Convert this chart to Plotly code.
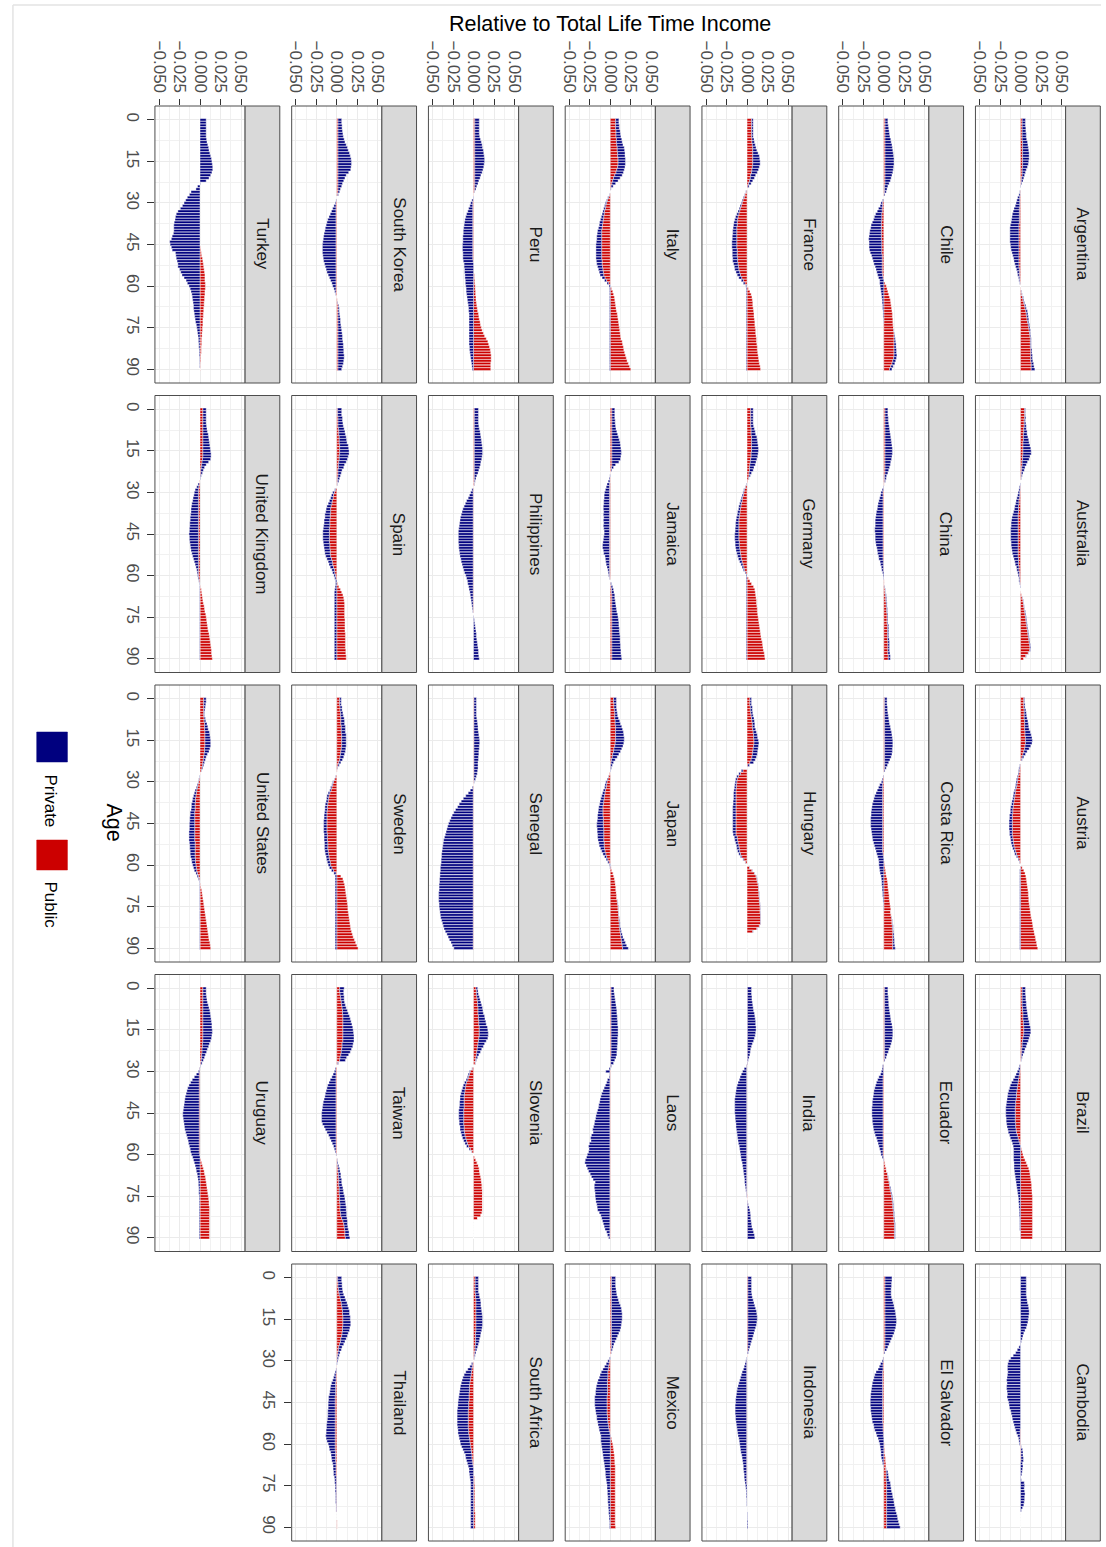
import plotly.graph_objects as go

W, H = 1106, 1547

COUNTRIES = ["Argentina", "Australia", "Austria", "Brazil", "Cambodia",
             "Chile", "China", "Costa Rica", "Ecuador", "El Salvador",
             "France", "Germany", "Hungary", "India", "Indonesia",
             "Italy", "Jamaica", "Japan", "Laos", "Mexico",
             "Peru", "Philippines", "Senegal", "Slovenia", "South Africa",
             "South Korea", "Spain", "Sweden", "Taiwan", "Thailand",
             "Turkey", "United Kingdom", "United States", "Uruguay"]
AGES = list(range(91))
VALUE_TICKS = [-0.05, -0.025, 0.0, 0.025, 0.05]
VALUE_TICK_LABELS = ["\u22120.050", "\u22120.025", "0.000", "0.025", "0.050"]
AGE_TICKS = [0, 15, 30, 45, 60, 75, 90]
AGE_TICK_LABELS = ["0", "15", "30", "45", "60", "75", "90"]
TITLE = "Relative to Total Life Time Income"
AGE_TITLE = "Age"
SERIES = ["Private", "Public"]

# values in thousandths of total life time income, one per age 0..90
ARGENTINA_PRIVATE = [4,4,4,4.5,4.5,5,5,5.5,6,6.5,
 7,7.5,8,8,8,7.5,7,6,5,4,
 3,2.5,2,1,0.5,0,-0.5,-1.5,-2.5,-3.5,
 -4.5,-5.5,-6.5,-7.5,-8.5,-9,-9.5,-10,-10.5,-11,
 -11,-11,-11,-11,-11,-10.5,-10,-9.5,-8.5,-7.5,
 -6.5,-6,-5,-4,-3.5,-2.5,-2,-1.5,-1,-0.5,
 0,0,0.5,0.5,1,1,1,1.5,1.5,2,
 2,2,2,1.5,1.5,1.5,1.5,1,1,1,
 1,1,1,1.5,1.5,2,2,2.5,3,3.5,
 4.5]
ARGENTINA_PUBLIC = [2,2,2,2,2,2,2,2,2.5,2.5,
 2.5,2.5,2.5,2.5,2.5,2.5,2.5,2.5,2,2,
 2,1.5,1,0.5,0,0,-0.5,-0.5,-1,-1,
 -1,-1,-1.5,-1.5,-1.5,-1.5,-1.5,-1.5,-2,-2,
 -2,-2,-2,-2,-2,-2,-2,-2,-2,-2,
 -2,-2,-2,-2,-1.5,-1.5,-1.5,-1,-1,-0.5,
 0,0.5,1,1.5,2.5,3,4,5,5.5,6.5,
 7,7.5,8,8.5,9.5,10,10.5,11,11.5,12,
 12,12,12,12.5,12.5,12.5,12.5,12.5,13,13,
 13]
AUSTRALIA_PRIVATE = [1,1,1,1.5,1.5,2,2.5,3,4,4.5,
 5.5,6.5,7.5,8.5,9.5,10,10,9,8,6.5,
 5,4,3,2,1,0.5,0,-0.5,-1,-1.5,
 -2,-2.5,-3,-3.5,-4,-4.5,-5,-6,-6.5,-7.5,
 -8,-8.5,-8.5,-9,-9,-9,-9,-9,-8.5,-8.5,
 -8,-7.5,-7,-6,-5.5,-4.5,-4,-3,-2.5,-2,
 -1.5,-1,-1,-0.5,-0.5,0,0,0,0.5,0.5,
 0.5,0.5,0.5,1,1,1,1,1,1,1,
 1,1,1,1,1,1,1,1,0.5,0.5,
 0]
AUSTRALIA_PUBLIC = [5,5,5,5,4.5,4.5,4.5,4,4,3.5,
 3.5,3.5,3,3,3,3,3,2.5,2.5,2,
 2,1.5,1.5,1,1,0.5,0,0,-0.5,-0.5,
 -1,-1,-1.5,-2,-2,-2.5,-2.5,-2.5,-3,-3,
 -3,-3,-3,-3,-3,-3,-3,-3,-3,-3,
 -3,-3,-3,-3,-2.5,-2.5,-2.5,-2,-2,-1.5,
 -1.5,-1,-1,-0.5,0,0,0.5,1.5,2,3,
 3.5,4,4.5,5,5.5,6,6.5,7,7.5,8,
 8.5,9,9.5,10,10.5,11,11.5,11,9.5,6.5,
 4]
AUSTRIA_PRIVATE = [1,1,1.5,1.5,2,2.5,3,3.5,4,4.5,
 5,5.5,6.5,7.5,8,8.5,8,7,5.5,4,
 3,2,1,0,-0.5,-1,-1,-1,-1,-1.5,
 -1.5,-1.5,-1.5,-1.5,-2,-2,-2,-2.5,-2.5,-3,
 -3,-3,-3.5,-3.5,-4,-4,-4,-4,-3.5,-3.5,
 -3,-3,-3,-2.5,-2.5,-2,-2,-1.5,-1,-0.5,
 0,-0.5,-1,-1,-1,-1,-1,-1,-1,-1,
 -1,-1,-1,-1,-1,-1,-1,-1,-1,-1,
 -1,-1,-1,-1,-1,-1,-1,-1,-1,-1,
 -1]
AUSTRIA_PUBLIC = [4,4,4,4,4.5,4.5,4.5,4.5,5,5,
 5,5,5.5,5.5,6,6,6,5.5,5,4,
 3,2,1,0,-0.5,-1,-1.5,-2,-3,-3.5,
 -4,-4.5,-5,-6,-6.5,-7,-7.5,-8,-8.5,-9,
 -9.5,-9.5,-10,-10,-10,-10,-10,-10,-10,-10,
 -9.5,-9,-8.5,-8,-7,-6,-5,-3.5,-2,-1,
 0,2,4,5.5,6.5,7,7.5,8,8.5,9,
 9.5,9.5,10,10,10.5,11,11.5,12,12.5,13,
 14,14.5,15,15.5,16.5,17,18,18.5,19.5,20,
 21]
BRAZIL_PRIVATE = [4,4,4,4.5,4.5,5,5,5,5.5,5.5,
 6,6.5,7,7.5,8,8.5,8.5,8,7.5,7,
 6,5,4,3,2,1,0.5,0,-1,-2,
 -3,-4,-5,-6.5,-8,-9,-9.5,-10,-10.5,-11,
 -11,-11,-11.5,-11.5,-11.5,-11.5,-11.5,-11,-11,-11,
 -10.5,-10,-10,-9.5,-9.5,-9,-9,-9,-8.5,-8.5,
 -8.5,-8.5,-8.5,-8,-8,-8,-7.5,-7,-6.5,-6,
 -5.5,-5,-4.5,-4,-3.5,-3,-2.5,-2.5,-2,-2,
 -1.5,-1.5,-1.5,-1,-1,-1,-1,-1,-0.5,-0.5,
 -0.5]
BRAZIL_PUBLIC = [2,2,2,2,2,2,2,2.5,2.5,3,
 3,3,3.5,3.5,4,4,4,3.5,3,2.5,
 2,2,1.5,1.5,1,1,0.5,0,-0.5,-0.5,
 -1,-1.5,-2,-2.5,-3,-3.5,-4,-4.5,-5,-5,
 -5.5,-6,-6,-6.5,-6.5,-6.5,-6.5,-6.5,-6.5,-6,
 -6,-5.5,-5,-4,-3,-2,-1,0,1,2,
 3,4,5.5,7,8.5,10,11,11.5,12,12.5,
 13,13.5,13.5,14,14,14.5,14.5,14.5,14.5,14.5,
 14.5,14.5,14.5,14.5,14.5,14.5,14.5,14.5,14.5,14.5,
 14.5]
CAMBODIA_PRIVATE = [7,7,7,7,7,7,7,7.5,8,8.5,
 9.5,10,10.5,10.5,10,9.5,9,8,7,5.5,
 4,3,2,1,-0.5,-2,-4,-6,-9,-12,
 -14.5,-15.5,-16,-16,-15.5,-16,-16.5,-17,-16.5,-17,
 -17,-16.5,-16,-16.5,-15.5,-14.5,-14,-13.5,-12,-11.5,
 -10.5,-10,-9,-8,-7,-5.5,-4.5,-3,-2,-1.5,
 -1,0.5,2,2.5,2.5,3,3,2.5,3,2.5,
 2,1.5,0.5,1,4.5,5,4.5,5,5.5,5,
 5,4.5,4,2.5,1,0,0,0,0,0,
 0]
CAMBODIA_PUBLIC = [0,0,0,0,0,0,0,0,0,0,
 0,0,0,0,0,0,0,0,0,0,
 0,0,0,0,0,0,0,0,0,0,
 0,0,0,0,0,0,0,0,0,0,
 0,0,0,0,0,0,0,0,0,0,
 0,0,0,0,0,-0.5,-0.5,-0.5,-0.5,-0.5,
 -0.5,0.5,0.5,0.5,0.5,0.5,0.5,0,0,0,
 0,0,0,0,0,0,0,0,0,0,
 0,0,0,0,0,0,0,0,0,0,
 0]
CHILE_PRIVATE = [3.5,3.5,4,4.5,5,5.5,6,7,7.5,8.5,
 9,9.5,10,10.5,11,11,11,10.5,10,9.5,
 8.5,7.5,6.5,5,4,3,2,1,0,-1,
 -2,-3,-4.5,-6,-7.5,-9,-10,-11,-12.5,-13,
 -14,-14.5,-15,-15.5,-15.5,-15.5,-15.5,-15,-14,-13,
 -12,-11,-10,-8.5,-7.5,-6.5,-6,-5.5,-5,-5,
 -4.5,-4,-3.5,-3,-2.5,-2,-2,-1.5,-1.5,-1,
 -1,-1,-0.5,-0.5,0,0,0.5,0.5,1,1.5,
 2,2.5,2.5,3,3,3.5,3.5,3.5,3.5,3,
 3]
CHILE_PUBLIC = [1.5,1.5,1.5,1.5,1.5,1.5,1.5,1.5,1.5,1.5,
 1.5,1.5,1.5,1.5,1.5,1.5,1.5,1.5,1.5,1.5,
 1.5,1.5,1.5,1.5,1,1,1,0.5,0,-0.5,
 -1.5,-1.5,-2,-2,-2.5,-2.5,-2.5,-3,-3,-3,
 -3,-3,-3,-3,-2.5,-2.5,-2.5,-2.5,-2.5,-2,
 -2,-2,-2,-2,-2,-2,-1.5,-1,0,1.5,
 3,4,5,6,7,8,8.5,9,9.5,10,
 10.5,10.5,11,11,11.5,12,12,12.5,12.5,12.5,
 12.5,12.5,12.5,12.5,12.5,12.5,12,11,10,8.5,
 7]
CHINA_PRIVATE = [3.5,3.5,3.5,4,4,4.5,5,5.5,6,6.5,
 7,7.5,8,8.5,9,9,9,8.5,8,7,
 6.5,5.5,4.5,3.5,2.5,2,1,0,-0.5,-1.5,
 -2.5,-3,-4,-5,-6,-6.5,-7,-8,-8.5,-9,
 -9.5,-9.5,-9.5,-10,-10,-9.5,-9.5,-9.5,-9,-8.5,
 -7.5,-7,-6.5,-5.5,-5,-4,-3.5,-2.5,-2,-1.5,
 -1,-0.5,0,0,0.5,0.5,0.5,1,1,1,
 1,1,1,1,1,1,1,1,1.5,1.5,
 1.5,1.5,1.5,2,2,2,2,2,2.5,2.5,
 2.5]
CHINA_PUBLIC = [1.5,1.5,1.5,1.5,1.5,1.5,1.5,1.5,1.5,1.5,
 1.5,1.5,1.5,1.5,1.5,1.5,1.5,1.5,1.5,1.5,
 1.5,1.5,1.5,1.5,1,1,1,0.5,0,-0.5,
 -1,-1,-1,-1,-1,-1,-1,-1,-1,-1,
 -1,-1,-1,-1,-1,-1,-1,-1,-1,-1,
 -1,-1,-1,-1,-1,-0.5,-0.5,-0.5,-0.5,0,
 0,0,0.5,0.5,1,1.5,1.5,2,2.5,2.5,
 3,3,3.5,3.5,4,4,4,4,4.5,4.5,
 4.5,4.5,4.5,4.5,5,5,5,5,5,5.5,
 5.5]
COSTA_RICA_PRIVATE = [3,3,3,3.5,3.5,4,4.5,5,5.5,6,
 7,7.5,8.5,9,9.5,10,10,10,9.5,9.5,
 9,8,6.5,5,3.5,2,1,0,-0.5,-1,
 -2,-3.5,-5,-6.5,-8,-9.5,-10.5,-11.5,-12.5,-13,
 -13.5,-14,-14,-14.5,-14.5,-14.5,-14.5,-14,-13.5,-13,
 -12.5,-12,-11,-10,-9,-8,-7.5,-7,-6.5,-6,
 -6,-5.5,-5,-4.5,-3.5,-3,-2.5,-2.5,-2,-2,
 -1.5,-1.5,-1,-1,-0.5,-0.5,-0.5,0,0,0.5,
 0.5,0.5,1,1,1,1.5,1.5,2,2,2.5,
 3]
COSTA_RICA_PUBLIC = [1,1,1,1,1,1,1,1,1,1,
 1,1,1,1,1,1,1,1,1,1,
 1,1,1,1,1,1,0.5,0,-0.5,-1,
 -1,-1.5,-1.5,-1.5,-1.5,-1.5,-1.5,-1.5,-1.5,-1.5,
 -1.5,-1.5,-1.5,-1.5,-1.5,-1.5,-1.5,-1.5,-1.5,-1.5,
 -1.5,-1.5,-1.5,-1.5,-1.5,-1.5,-1,-0.5,0,0.5,
 1,1.5,2,2.5,3,4,4.5,5,5,5.5,
 6,6.5,6.5,7,7.5,8,8.5,8.5,9,9.5,
 10,10,10.5,10.5,11,11,11,11,11,11,
 11]
ECUADOR_PRIVATE = [4,4,4,4.5,4.5,5,5,5.5,6,6.5,
 7,7.5,8,9,9.5,10,10,10,9.5,9,
 8,7,5.5,4.5,3,2,1,0,-1,-1.5,
 -2.5,-3.5,-5,-6.5,-8,-9,-10,-11,-11.5,-12,
 -12.5,-13,-13,-13.5,-13.5,-13.5,-13.5,-13,-13,-12.5,
 -12,-11.5,-10.5,-9.5,-8,-7,-6,-5,-4,-3,
 -2.5,-1.5,-0.5,0,0,0,0,0.5,0.5,0.5,
 0.5,0.5,1,1,1,1,1,1,1,1,
 1,1,1,1,1,1,1,1,1,1,
 1]
ECUADOR_PUBLIC = [1,1,1,1,1,1,1,1,1,1,
 1,1,1,1,1,1,1,1,1,1,
 1,1,1,1,1,1,0.5,0,-0.5,-0.5,
 -0.5,-0.5,-1,-1,-1,-1,-1,-1,-1,-1,
 -1,-1,-1,-1,-1,-1,-1,-1,-1,-1,
 -1,-1,-1,-1,-1,-1,-1,-1,-1,-1,
 -1,-0.5,0.5,1.5,2,3,3.5,4.5,5,5.5,
 6.5,7,7.5,8,9,9.5,10,10.5,11,11,
 11.5,12,12,12.5,12.5,13,13,13,13,13,
 13]
EL_SALVADOR_PRIVATE = [8.5,8.5,8,8,7.5,7.5,7.5,8,9,10,
 11,11.5,12.5,13,13.5,14,14,13.5,13,12,
 11,9.5,8,6.5,5,3.5,2.5,1,0,-0.5,
 -1.5,-3,-4.5,-6,-8,-9.5,-10.5,-11.5,-12.5,-13,
 -13.5,-14,-14.5,-14.5,-15,-15,-15,-14.5,-14.5,-14,
 -13.5,-13,-12.5,-11.5,-11,-10,-9,-8,-7,-6,
 -5,-4.5,-4,-3.5,-3.5,-3,-2,-1.5,-0.5,0.5,
 2,2.5,3,3.5,4.5,5,5.5,6,7,7.5,
 8.5,9,9.5,10.5,11,12,13,13.5,14.5,15.5,
 16.5]
EL_SALVADOR_PUBLIC = [1.5,1.5,1.5,1.5,1.5,1.5,1.5,1.5,1.5,1.5,
 1.5,1.5,1.5,1.5,1.5,1.5,1.5,1.5,1.5,1.5,
 1.5,1.5,1.5,1.5,1.5,1.5,1,0.5,0,-0.5,
 -0.5,-1,-1,-1,-1.5,-1.5,-1.5,-1.5,-1.5,-1.5,
 -1.5,-1.5,-1.5,-1.5,-1.5,-1.5,-1.5,-1.5,-1.5,-1.5,
 -1.5,-1.5,-1.5,-1,-1,-1,-0.5,-0.5,0,0,
 0.5,0.5,1,1,1.5,2,2,2.5,2.5,2.5,
 3,3,3,3,3.5,3.5,3.5,3.5,3.5,3.5,
 3.5,3.5,3.5,3.5,3.5,3.5,3.5,3.5,3.5,3.5,
 3.5]
FRANCE_PRIVATE = [2,2,2,2,2,2,2,2.5,3,3.5,
 4,5,6.5,8,8.5,9,9,8.5,8,7,
 6,5,4,3,1.5,0,-0.5,-0.5,-1,-1,
 -1,-1.5,-1.5,-2,-2.5,-3,-3.5,-4,-4.5,-4.5,
 -5,-5,-5.5,-5.5,-6,-6,-6,-6,-6,-6,
 -6,-6,-5.5,-5,-5,-4.5,-4,-3.5,-2.5,-2,
 -1,-1,-1,-1,-1,-1,-1,-1,-1,-1,
 -1,-1,-1,-1,-1,-1,-1,-1,-1,-1,
 -1,-1,-1,-1,-1,-1,-1,-1,-1,-1,
 -1]
FRANCE_PUBLIC = [5.5,5.5,5.5,5.5,5.5,5.5,5.5,6,6,6.5,
 7,7,7,7,7,7,7,6.5,6,5.5,
 4.5,4,3,2,1,0,-1,-2.5,-3.5,-5,
 -6,-7,-8,-9,-10,-11,-11.5,-12,-12,-12.5,
 -12.5,-12.5,-12.5,-12.5,-12.5,-12.5,-12.5,-12,-12,-12,
 -11.5,-11.5,-11,-10.5,-10,-9,-8,-6.5,-4.5,-2.5,
 -0.5,1.5,3.5,5,6,6.5,7,7,7.5,8,
 8.5,8.5,9,9.5,9.5,10,10.5,10.5,11,11.5,
 11.5,12,12.5,12.5,13,13.5,14,14.5,15,16,
 16.5]
GERMANY_PRIVATE = [3,3,3,3,3,3,3.5,4,5,5.5,
 6.5,7,7.5,8,8.5,8.5,8.5,8,7.5,7,
 6.5,5.5,4.5,3,1.5,0.5,0,-0.5,-0.5,-1,
 -1,-1.5,-1.5,-2,-2,-2.5,-2.5,-3,-3,-3.5,
 -3.5,-4,-4,-4.5,-4.5,-5,-5,-5,-5,-5,
 -5,-5,-4.5,-4,-3.5,-3,-2.5,-2,-1.5,-1,
 -1,-1,-1,-1,-1,-1,-1,-1,-1,-1,
 -1,-1,-1,-1,-1,-1,-1,-1,-1,-1,
 -1,-1,-1,-1,-1,-1,-1,-1,-1,-1,
 -1]
GERMANY_PUBLIC = [4.5,4.5,4.5,4.5,4.5,4.5,4.5,5,5,5,
 5.5,5.5,5.5,5.5,5.5,5.5,5,5,4.5,4,
 3.5,3,3,2.5,2.5,2,1,-0.5,-2,-3,
 -4,-4.5,-5.5,-6,-7,-7.5,-8,-8.5,-9,-9.5,
 -10,-10,-10,-10,-10,-10,-10,-10,-9.5,-9.5,
 -9,-8.5,-8,-7.5,-7,-6,-5,-4,-3,-1.5,
 0,1.5,3.5,5.5,8,9.5,10,10.5,11,11.5,
 11.5,12,12.5,12.5,13,13.5,14,14.5,15,15.5,
 16,16.5,17,17.5,18.5,19,19.5,20,21,21.5,
 22]
HUNGARY_PRIVATE = [2,2,2,2.5,2.5,2.5,2.5,3,3,3,
 3,3.5,4,4.5,5,5.5,6,6,6,6,
 6,5.5,5,4.5,2,0,-2,-2,-2,-2,
 -2,-2,-2.5,-2.5,-3,-3,-3,-3.5,-3.5,-4,
 -4,-4,-4,-4,-4,-4,-4,-4,-4,-3.5,
 -3.5,-3.5,-3,-3,-3,-2.5,-2,-1.5,-1,-0.5,
 0,0.5,0.5,0.5,0.5,0.5,0.5,0.5,0.5,0.5,
 0.5,0.5,0.5,0.5,0.5,0.5,0.5,0.5,0.5,0.5,
 0.5,0.5,0.5,0.5,0.5,0,0,0,0,0,
 0]
HUNGARY_PUBLIC = [3.5,3.5,3.5,4,4,4.5,5,5.5,6,6.5,
 6.5,7,7.5,8,8,8.5,8.5,8,7.5,7,
 6.5,6,5,3.5,1,0,-5,-8,-10.5,-12,
 -12.5,-13,-13,-13.5,-13.5,-13.5,-13.5,-13.5,-13.5,-13.5,
 -13.5,-13.5,-13.5,-13.5,-13.5,-13.5,-13.5,-13.5,-13.5,-13.5,
 -12,-11.5,-11,-10,-9.5,-9,-8,-6.5,-4,-2,
 0,3,6,9,11,12,12.5,13.5,14,14,
 14.5,14.5,15,15,15.5,16,16,16,16.5,16.5,
 16.5,16.5,15,12,7,0,0,0,0,0,
 0]
INDIA_PRIVATE = [5,5,5,5.5,5.5,6,6.5,7,7.5,8.5,
 9,9.5,10,10,10.5,10.5,10,9.5,8.5,7.5,
 6,5,4,3.5,3,2,1,0.5,-0.5,-3,
 -5,-6.5,-8,-9,-10.5,-11.5,-12.5,-13,-13.5,-14,
 -14.5,-14.5,-14.5,-14.5,-14.5,-14.5,-14,-14,-13.5,-13,
 -13,-12.5,-12,-11.5,-11,-10.5,-10,-9,-8.5,-8,
 -7.5,-7,-6.5,-5.5,-5,-4.5,-4,-3.5,-3,-2.5,
 -2.5,-2,-1.5,-1,-0.5,-0.5,0,0.5,1,2,
 3,3.5,4,4,4.5,5,5.5,6.5,7.5,8.5,
 9]
INDIA_PUBLIC = [0.5,0.5,0.5,0.5,0.5,0.5,0.5,0.5,0.5,0.5,
 0.5,0.5,0.5,0.5,0.5,0.5,0.5,0.5,0.5,0.5,
 0.5,0.5,0.5,0.5,0.5,0.5,0.5,0.5,-0.5,-0.5,
 -0.5,-0.5,-0.5,-0.5,-0.5,-0.5,-0.5,-0.5,-0.5,-0.5,
 -0.5,-0.5,-0.5,-0.5,-0.5,-0.5,-0.5,-0.5,-0.5,-0.5,
 -0.5,-0.5,-0.5,-0.5,-0.5,-0.5,-0.5,-0.5,-0.5,-0.5,
 -0.5,-0.5,-0.5,-0.5,-0.5,-0.5,-0.5,-0.5,-0.5,-0.5,
 -0.5,-0.5,-0.5,-0.5,-0.5,0.5,0.5,0.5,0.5,0.5,
 0.5,0.5,0.5,0.5,0.5,0.5,0.5,0.5,0.5,0.5,
 0.5]
INDONESIA_PRIVATE = [4.5,4.5,4.5,4.5,4.5,4.5,5,5.5,6.5,7.5,
 8.5,9.5,10.5,11,11.5,11.5,11,10.5,9.5,8.5,
 7.5,6.5,5.5,4.5,3.5,2.5,1.5,1,0,-0.5,
 -1,-2,-3,-4,-5.5,-6.5,-7.5,-8.5,-9.5,-10.5,
 -11.5,-12,-12.5,-13,-13.5,-13.5,-14,-14,-14,-14,
 -13.5,-13.5,-13,-12.5,-12,-11.5,-11,-10.5,-9.5,-9,
 -8.5,-8,-7.5,-7,-6,-5.5,-5,-4.5,-4,-4,
 -3.5,-3,-3,-2.5,-2,-2,-1.5,-1,-1,-1,
 -0.5,-0.5,-0.5,0,0,0.5,0.5,0.5,1,1,
 1]
INDONESIA_PUBLIC = [1,1,1,1,1,1,1,1,1,1,
 1,1,1,1,1,1,1,1,1,1,
 1,1,1,1,1,1,1,0.5,0.5,0,
 -0.5,-0.5,-0.5,-0.5,-0.5,-0.5,-0.5,-0.5,-0.5,-0.5,
 -0.5,-0.5,-0.5,-0.5,-0.5,-0.5,-0.5,-0.5,-0.5,-0.5,
 -0.5,-0.5,-0.5,-0.5,-0.5,-0.5,-0.5,-0.5,-0.5,-0.5,
 -0.5,-0.5,-0.5,-0.5,-0.5,-0.5,-0.5,-0.5,-0.5,-0.5,
 -0.5,-0.5,-0.5,-0.5,-0.5,0,0,0,0,0,
 0,0,0,0,0,0,0,0,0,0,
 0]
ITALY_PRIVATE = [4,4,4.5,4.5,5,5.5,6,6.5,7,7.5,
 8.5,9,9,9,9,9,9,9,9,9,
 9,8,6.5,4.5,2.5,0.5,0,-0.5,-1,-1,
 -1.5,-1.5,-2,-2,-2.5,-3,-3.5,-4,-4,-4.5,
 -5,-5.5,-6,-6,-6.5,-7,-7,-7,-7,-7,
 -7,-7,-6.5,-6,-5.5,-5,-4.5,-3.5,-2.5,-2,
 -1.5,-1,-1,-1,-1,-1,-1,-1,-1,-1,
 -1,-1,-1,-1,-1,-1,-1,-1,-1,-1,
 -1,-1,-1,-1,-1,-1,-1,-1,-1,-1,
 -1]
ITALY_PUBLIC = [6.5,6.5,6.5,6.5,7,7,7,7.5,7.5,8,
 8.5,8.5,9,9,9.5,9.5,9.5,9,8,7,
 5.5,4,3,2,1,0.5,0,-0.5,-2,-3.5,
 -4.5,-5.5,-6,-7,-7.5,-8,-8.5,-9,-9.5,-10,
 -10.5,-10.5,-10.5,-10.5,-10.5,-10.5,-10.5,-10.5,-10.5,-10.5,
 -10.5,-10,-10,-9.5,-9,-8.5,-8,-6.5,-4.5,-2,
 0,1.5,3,4,5,5.5,6,6.5,7,7.5,
 8.5,9,9.5,10,10.5,11,11.5,12,12.5,13,
 14.5,15,16,16.5,17.5,18.5,19.5,20.5,22,23.5,
 25]
JAMAICA_PRIVATE = [3.5,3.5,3.5,3.5,4,4,4.5,5,6,7,
 8,9,10,10.5,11,11.5,11.5,11,10.5,8.5,
 4.5,2.5,1,0,-0.5,-1,-2,-3,-4,-5,
 -6,-6.5,-6.5,-7,-7,-7.5,-7.5,-7,-7.5,-7,
 -7.5,-7,-7.5,-7,-6.5,-6.5,-7,-7.5,-8,-8.5,
 -8.5,-7.5,-7,-5.5,-5,-4.5,-4,-3,-2,-1.5,
 -1,-0.5,0,1,2,2.5,3,3.5,3.5,4,
 4.5,5,5.5,6,7,7.5,8,8.5,8.5,9,
 9,9.5,10,10,10,10.5,10.5,11,11,11.5,
 12]
JAMAICA_PUBLIC = [2,2,2,2,2,2,2,2,2,2,
 2,2,2,2,2,2,2,2,2,2,
 2,1.5,1,0.5,0,-0.5,-0.5,-1,-1,-1,
 -1,-1,-1,-1,-1,-1,-1,-1,-1,-1,
 -1,-1,-1,-1,-1,-1,-1,-1,-1,-1,
 -1,-1,-1,-1,-1,-1,-1,-1,-1,-1,
 -1,-0.5,0,0.5,1,1.5,1.5,2,2,2,
 2,2,2,2,2,2,2,2,2,2,
 2,2,2,2,2,2,2,2,2,2,
 2]
JAPAN_PRIVATE = [3.5,3.5,3,3,3,3,3.5,4.5,5.5,6.5,
 7.5,8.5,9.5,10,10.5,10.5,10.5,10,9.5,8.5,
 7.5,6,4.5,3,2,1,0.5,0,-0.5,-1,
 -1.5,-2,-2,-2.5,-3,-3.5,-4,-4.5,-4.5,-5,
 -5.5,-6,-6.5,-7,-7.5,-8,-8,-8,-8,-7.5,
 -7.5,-7,-6.5,-6,-5,-4,-3.5,-2.5,-2,-1.5,
 -1,-0.5,0,0,0,0,0,0,0,0,
 0,0,0,0.5,0.5,0.5,0.5,0.5,0.5,0.5,
 1,1,1,1.5,1.5,2,2.5,3.5,4.5,5.5,
 7]
JAPAN_PUBLIC = [4,4,4.5,4.5,5,5.5,5.5,5.5,6,6,
 6.5,6.5,6.5,6.5,6.5,6.5,6,5.5,4.5,4,
 3,2.5,1.5,1,0.5,0.5,0,-1,-2,-3,
 -4,-4.5,-5,-6,-6.5,-7,-7.5,-8,-8.5,-9,
 -9,-9,-9,-8.5,-8.5,-8.5,-8.5,-8,-8,-8,
 -8,-8,-7.5,-7.5,-7,-6.5,-5.5,-4.5,-3,-1.5,
 0,1,2,3.5,4.5,5.5,6,6.5,7,7,
 7.5,8,8,8.5,9,9.5,9.5,10,10,10.5,
 10.5,11,11,11.5,12,12.5,13,13.5,14,14.5,
 15]
LAOS_PRIVATE = [3.5,3.5,4,4.5,5,5.5,6,6.5,7,7,
 7.5,7.5,8,8,8.5,8.5,8.5,8.5,8,8,
 8,7.5,7.5,7,7,6.5,5,3.5,1,-1.5,
 -5,-0.5,-1,-3,-4,-5.5,-7,-8.5,-10,-11,
 -12,-12.5,-13.5,-14,-15,-16,-17,-17.5,-18.5,-19,
 -20,-21,-20.5,-22.5,-23.5,-23,-25,-26,-25.5,-26,
 -27.5,-28.5,-30,-30.5,-29,-27.5,-26,-24,-22.5,-20.5,
 -18,-19,-19,-18.5,-18,-18,-17.5,-17,-16,-15.5,
 -15,-13,-11,-10,-9,-8,-7,-6,-4,-3,
 -1.5]
LAOS_PUBLIC = [1,1,1,1,1,1,1,1,1,1,
 1,1,1,1,1,1,1,1,1,1,
 1,1,1,1,1,0.5,0.5,0.5,0.5,0,
 -0.5,-0.5,-0.5,-0.5,-0.5,-0.5,-0.5,-0.5,-0.5,-0.5,
 -0.5,-0.5,-0.5,-0.5,-0.5,-0.5,-0.5,-0.5,-0.5,-0.5,
 -0.5,-0.5,-0.5,-0.5,-0.5,-0.5,-0.5,-0.5,-0.5,-0.5,
 -0.5,-0.5,-0.5,-0.5,-0.5,-0.5,-0.5,-0.5,-0.5,-0.5,
 -0.5,-0.5,-0.5,-0.5,-0.5,-0.5,-0.5,-0.5,-0.5,-0.5,
 -0.5,-0.5,-0.5,-0.5,-0.5,-0.5,-0.5,-0.5,-0.5,-0.5,
 -0.5]
MEXICO_PRIVATE = [5,5,5,5,5.5,6,6.5,7.5,8.5,9.5,
 11,12,12.5,13,13,13,12.5,12,11.5,10.5,
 9,7.5,6,4.5,3,2,1.5,0.5,0,-1,
 -2,-3.5,-5,-6.5,-8,-9.5,-10.5,-11.5,-12.5,-13.5,
 -14,-14.5,-14.5,-15,-15,-15,-15,-14.5,-14,-13.5,
 -13,-13,-12.5,-12.5,-12,-12,-12,-11.5,-11.5,-11.5,
 -11,-10.5,-10,-9.5,-9,-8.5,-8,-7.5,-7,-6.5,
 -6,-6,-5.5,-5,-4.5,-4,-4,-3.5,-3.5,-3,
 -3,-3,-2.5,-2.5,-2,-2,-1.5,-1.5,-1,-1,
 -1]
MEXICO_PUBLIC = [1.5,1.5,1.5,1.5,1.5,1.5,1.5,1.5,1.5,1.5,
 1.5,1.5,1.5,1.5,1.5,1.5,1.5,1.5,1.5,1.5,
 1.5,1.5,1.5,1.5,1.5,1.5,1,1,0.5,0,
 -1,-1.5,-2,-2.5,-3,-3,-3,-3.5,-3.5,-3.5,
 -3.5,-3.5,-3.5,-4,-4,-4,-4,-4,-4,-4,
 -3.5,-3.5,-3,-2.5,-2,-1.5,-0.5,0.5,1.5,2,
 3,3.5,4,4.5,5,5,5.5,5.5,6,6,
 6,6,6,6,6,6,6,6,6,6,
 6,6,6,6,6,6,6,6,6,6,
 6.5]
PERU_PRIVATE = [5.5,5.5,5.5,5.5,5.5,5.5,6,7,8,9,
 9.5,10.5,11,11.5,12,12,11.5,11,10,9,
 7.5,6.5,5,4,2.5,1.5,0.5,0,-0.5,-1.5,
 -2.5,-3.5,-5,-6,-7.5,-8.5,-9.5,-10,-10.5,-11,
 -11.5,-11.5,-12,-12,-12,-12.5,-12.5,-12.5,-12,-12,
 -12,-12,-11.5,-11.5,-11,-11,-10.5,-10.5,-10,-10,
 -9.5,-9,-9,-8.5,-8,-7.5,-7,-6.5,-6,-6,
 -5.5,-5.5,-5.5,-5.5,-5.5,-5.5,-5.5,-5.5,-5.5,-5.5,
 -5.5,-5.5,-5,-5,-4.5,-4,-3.5,-3,-2.5,-2,
 -1.5]
PERU_PUBLIC = [1.5,1.5,1.5,1.5,1.5,1.5,1.5,1.5,1.5,1.5,
 1.5,1.5,1.5,1.5,1.5,1.5,1.5,1.5,1.5,1.5,
 1.5,1.5,1.5,1.5,1.5,1.5,1,0.5,0,-0.5,
 -1,-1,-1,-1,-1,-1,-1,-1,-1,-1,
 -1,-1,-1,-1,-1,-1,-1,-1,-1,-1,
 -1,-0.5,0,0.5,0.5,0.5,1,1,1.5,1.5,
 2,2,2.5,2.5,3,3,3.5,4,4.5,5,
 6,6.5,7,8,8.5,9.5,10.5,12,13.5,15.5,
 17.5,18.5,19.5,20.5,21,21.5,21.5,21.5,21,21,
 21]
PHILIPPINES_PRIVATE = [5,5,5,5,5,5,5.5,6,7,7.5,
 8,8.5,9,9.5,10,10,10,9.5,9,8,
 7.5,6.5,5.5,4.5,3,2,1,0.5,0,-1.5,
 -3,-4.5,-6,-8,-9.5,-11,-12.5,-13.5,-14.5,-15.5,
 -16,-16.5,-17,-17.5,-18,-18,-18,-18,-18,-17.5,
 -17.5,-17,-16.5,-16,-15,-14.5,-13.5,-12.5,-11.5,-10.5,
 -9,-8,-7,-6.5,-5.5,-5,-4,-3.5,-3,-2.5,
 -2,-1.5,-1,-0.5,0,0.5,1,1.5,2,2.5,
 3,3.5,3.5,4,4.5,5,5.5,6,6,6.5,
 7]
PHILIPPINES_PUBLIC = [1,1,1,1,1,1,1,1,1,1,
 1,1,1,1,1,1,1,1,1,1,
 1,1,1,1,1,1,1,1,-0.5,-0.5,
 -0.5,-0.5,-0.5,-0.5,-0.5,-0.5,-0.5,-0.5,-0.5,-0.5,
 -0.5,-0.5,-0.5,-0.5,-0.5,-0.5,-0.5,-0.5,-0.5,-0.5,
 -0.5,-0.5,-0.5,-0.5,-0.5,-0.5,-0.5,-0.5,-0.5,-0.5,
 -0.5,-0.5,-0.5,-0.5,-0.5,-0.5,-0.5,-0.5,-0.5,-0.5,
 -0.5,-0.5,-0.5,-0.5,0,0,0,0,0,0,
 0,0,0,0,0,0,0,0,0,0,
 0]
SENEGAL_PRIVATE = [3,3,3,3,3,3,3,3.5,4,4.5,
 5,5,5.5,6,6.5,7,7,6.5,6.5,6,
 6,5.5,5.5,5,5,5,4.5,4,3,2,
 0.5,0,-1,-3.5,-6,-9,-12,-14.5,-17,-19,
 -21.5,-23.5,-25.5,-27,-28.5,-30,-31,-32,-33,-34,
 -35,-36,-36.5,-37,-37.5,-38,-38.5,-38.5,-39,-39,
 -39.5,-40,-40,-40.5,-40.5,-41,-41,-41.5,-41.5,-41.5,
 -42,-42,-42,-42,-41.5,-41.5,-41,-40.5,-40,-39.5,
 -38.5,-37.5,-36.5,-35.5,-34,-32,-30.5,-29,-27,-25.5,
 -23.5]
SENEGAL_PUBLIC = [0.5,0.5,0.5,0.5,0.5,0.5,0.5,0.5,0.5,0.5,
 0.5,0.5,0.5,0.5,0.5,0.5,0.5,0.5,0.5,0.5,
 0.5,0.5,0.5,0.5,0.5,0.5,0.5,0.5,0.5,0.5,
 0.5,-0.5,-0.5,-0.5,-0.5,-0.5,-0.5,-0.5,-0.5,-0.5,
 -0.5,-0.5,-0.5,-0.5,-0.5,-0.5,-0.5,-0.5,-0.5,-0.5,
 -0.5,-0.5,-0.5,-0.5,-0.5,-0.5,-0.5,-0.5,-0.5,-0.5,
 -0.5,-0.5,-0.5,-0.5,-0.5,-0.5,-0.5,-0.5,-0.5,-0.5,
 -0.5,-0.5,-0.5,-0.5,-0.5,-0.5,-0.5,-0.5,-0.5,-0.5,
 -0.5,-0.5,-0.5,-0.5,-0.5,-0.5,-0.5,-0.5,-0.5,-0.5,
 -0.5]
SLOVENIA_PRIVATE = [2,2,2.5,3,3.5,4,5,5.5,6,6.5,
 7.5,8,8.5,9,10,10.5,11,11,11,9.5,
 8,7,5.5,4.5,3,2,1,0.5,0,-0.5,
 -1,-1.5,-1.5,-2,-2.5,-3,-3.5,-4,-4.5,-5,
 -5,-5.5,-5.5,-6,-6,-6,-6,-6,-5.5,-5.5,
 -5,-5,-4.5,-4,-4,-3.5,-3,-2.5,-1.5,-0.5,
 0,0,0,0,0,0,0,0,0,0,
 0,0,0,0,0,0,0,0,0,0,
 0,0,0,0,0,0,0,0,0,0,
 0]
SLOVENIA_PUBLIC = [3,3.5,3.5,4,4.5,5,5,5.5,5.5,5.5,
 6,6,6.5,6.5,7,7,7,7,6.5,6,
 5.5,5,4.5,4,3.5,3,2.5,2,0,-1.5,
 -4,-5,-6,-7,-8.5,-9.5,-10,-10.5,-11,-11.5,
 -11.5,-11.5,-11.5,-11.5,-12,-12,-12,-12,-12,-12,
 -11.5,-11.5,-11,-10.5,-9.5,-8.5,-7.5,-6,-4,-2,
 0,1.5,3,4.5,6,7,7.5,8,9,9.5,
 10,10.5,10.5,11,11,11,11,11,11,11,
 11,10.5,9,5,0,0,0,0,0,0,
 0]
SOUTH_AFRICA_PRIVATE = [4,4,4,4,4,4,4.5,5,5.5,6,
 6,6.5,7,7.5,8,8,8,8,7.5,7,
 6.5,6,5,4.5,3.5,3,2,1.5,1,0.5,
 0,-1.5,-3,-5,-7,-8.5,-9.5,-10,-10.5,-11,
 -11.5,-12,-12,-12.5,-13,-13,-13,-13.5,-13.5,-13.5,
 -13.5,-13.5,-13.5,-13.5,-13,-13,-13,-12.5,-12.5,-12,
 -12,-11,-10,-9,-8,-7.5,-7,-6.5,-6,-5.5,
 -5.5,-5,-4.5,-4,-3.5,-3.5,-3.5,-3.5,-3.5,-3.5,
 -3.5,-3.5,-3.5,-3.5,-3.5,-3.5,-3.5,-3.5,-3.5,-3.5,
 -3.5]
SOUTH_AFRICA_PUBLIC = [2,2,2,2,2,2,2.5,2.5,3,3,
 3,3,3,3,3,3,3,3,3,3,
 2.5,2.5,2.5,2.5,2.5,2,2,1.5,1,0.5,
 -0.5,-1,-1.5,-2,-2.5,-3,-3.5,-4,-4.5,-5,
 -5,-5,-5.5,-5.5,-5.5,-6,-6,-6,-6.5,-6.5,
 -6.5,-6.5,-6.5,-6.5,-6.5,-6,-6,-5.5,-5,-4.5,
 -4,-3.5,-3,-2.5,-2,-2,-1.5,-1,-0.5,0,
 0.5,0.5,1,1,1,1.5,1.5,1.5,1.5,1.5,
 1.5,1.5,1.5,1.5,1.5,2,2,2,2,2,
 2]
SOUTH_KOREA_PRIVATE = [4.5,4.5,5,5,5.5,6,6.5,7.5,8.5,10,
 11.5,12.5,14,15,16,16.5,16.5,16,15.5,13,
 10,8.5,7,5.5,4.5,3,2,1,0,-0.5,
 -1,-2.5,-4,-5.5,-7,-8.5,-10,-11,-12,-13,
 -13.5,-14.5,-15,-15.5,-16,-16.5,-16.5,-16.5,-16.5,-16,
 -15.5,-15,-14,-13,-12,-11,-9.5,-8,-6.5,-5,
 -4,-2.5,-1.5,-0.5,0,0,0.5,1,1.5,1.5,
 2,2.5,3,3,3.5,4,4.5,5,5.5,5.5,
 6,6.5,6.5,7,7,7.5,7.5,7,6.5,5.5,
 4.5]
SOUTH_KOREA_PUBLIC = [1.5,1.5,1.5,1.5,1.5,1.5,1.5,1.5,1.5,1.5,
 1.5,1.5,1.5,1.5,1.5,1.5,1.5,1.5,1.5,1.5,
 1.5,1.5,1.5,1.5,1.5,1.5,1.5,1,0,-0.5,
 -1,-1,-1,-1,-1,-1,-1,-1,-1,-1,
 -1,-1,-1,-1,-1,-1,-1,-1,-1,-1,
 -1,-1,-1,-1,-1,-1,-1,-1,-1,-1,
 -1,-1,-1,-1,-0.5,1,1,1.5,1.5,1.5,
 1.5,1.5,1.5,1.5,1.5,1.5,1.5,1.5,1.5,1.5,
 1.5,1.5,1.5,1.5,1.5,1.5,1.5,1.5,1.5,1.5,
 1.5]
SPAIN_PRIVATE = [5,5,5,5.5,5.5,6,6.5,7,7.5,8,
 8.5,9,9.5,10.5,11,11.5,11.5,11,10,9,
 7.5,6.5,5,4,3,2.5,1.5,0.5,0,-1,
 -2,-2.5,-3,-3.5,-4.5,-5,-5.5,-6,-6.5,-6.5,
 -7,-7,-7.5,-7.5,-8,-8,-8,-8,-7.5,-7.5,
 -7,-7,-6.5,-6,-5.5,-5,-4.5,-4,-3,-2.5,
 -2,-1.5,-1.5,-1.5,-2,-2.5,-3,-3,-3,-3,
 -3,-3,-3,-3,-3,-3,-3,-3,-3,-3,
 -3,-3,-3,-3,-3,-3,-3,-3,-3,-3,
 -3]
SPAIN_PUBLIC = [1,1,1,1.5,1.5,1.5,1.5,2,2.5,2.5,
 3,3,3,3.5,3.5,3.5,3.5,3,3,2.5,
 2,2,1.5,1.5,1.5,1,1,0.5,0,-1.5,
 -3,-4,-4.5,-5.5,-6,-7,-7.5,-7.5,-8,-8,
 -8.5,-8.5,-8.5,-9,-9,-9,-9,-9,-9,-8.5,
 -8.5,-8,-8,-7.5,-6.5,-5.5,-5,-4,-3,-2.5,
 -1.5,-1,0,1,2.5,4.5,6,7.5,8.5,9,
 9.5,9.5,9.5,9.5,9.5,9.5,10,10,10,10,
 10,10.5,10.5,10.5,10.5,10.5,10.5,11,11,11.5,
 11.5]
SWEDEN_PRIVATE = [2,2,2,2.5,2.5,3,3.5,4,4.5,4.5,
 5,5,5,5.5,5.5,5.5,5.5,5.5,5.5,5.5,
 5,4.5,3.5,2.5,1.5,0.5,0,0,-0.5,-0.5,
 -1,-1,-1.5,-1.5,-2,-2.5,-2.5,-2.5,-3,-3,
 -3,-3,-3.5,-3.5,-4,-4,-4,-4,-4,-4,
 -4,-4,-4,-4,-4,-4,-4,-3.5,-3.5,-3.5,
 -3,-3,-2.5,-2.5,-2,-2,-2,-2,-2,-2,
 -2,-2,-2,-2,-2,-2,-2,-2,-2,-2,
 -2,-2,-2,-2,-2,-2,-2,-2,-2,-2,
 -2]
SWEDEN_PUBLIC = [3.5,3.5,3.5,4,4,4.5,4.5,5,5,5,
 5.5,5.5,5.5,6,6,6,6,6,5.5,5,
 4.5,4,3.5,2.5,1.5,1,0.5,0,-1,-2.5,
 -4,-5,-6,-7,-8.5,-9.5,-10,-10.5,-11,-11.5,
 -11.5,-12,-12,-12,-12,-12,-12,-12,-12,-11.5,
 -11.5,-11.5,-11,-11,-11,-10.5,-10,-9.5,-9,-8,
 -7.5,-6,-4,-1,5,7.5,8.5,9.5,10,10.5,
 11,11.5,12,12.5,13,13.5,13.5,14,14.5,15,
 15.5,16,16.5,17,18,19,20,21.5,23,24.5,
 26]
TAIWAN_PRIVATE = [5.5,5,4.5,4.5,4,4,4.5,5,6,7,
 8,9,10,11,12,12.5,13,13.5,13.5,13.5,
 13.5,13,12,11,9.5,8,7,1,0,-1,
 -2,-3.5,-5,-7,-8.5,-10,-11,-12,-13,-13.5,
 -14.5,-15.5,-16,-16.5,-17,-17.5,-17.5,-17.5,-17.5,-16.5,
 -14.5,-13,-11,-9,-7.5,-6,-4.5,-3,-2,-1,
 -0.5,0,0.5,1,1.5,2,2.5,3,3,3.5,
 3.5,4,4.5,5,5.5,6,6.5,7,7,7.5,
 7.5,7.5,7,6.5,5.5,4.5,4.5,4.5,5,5,
 5.5]
TAIWAN_PUBLIC = [3.5,3.5,4,4.5,5,5.5,6,6.5,7,7,
 7.5,7.5,7.5,7.5,7.5,7.5,7.5,7.5,7.5,7.5,
 6.5,6.5,6,5.5,5,4,3.5,1,0,-1,
 -1,-1,-1,-1,-1,-1,-1,-1,-1,-1,
 -1,-1,-1,-1,-1,-1,-1,-1,-1,-1,
 -1,-1,-1,-1,-1,-1,-1,-1,-1,-1,
 -0.5,0,0.5,0.5,1,1.5,1.5,2,2,2.5,
 2.5,2.5,3,3,3,3.5,3.5,3.5,4,4,
 4,4.5,5,6,7.5,8.5,9,9.5,10,10,
 10.5]
THAILAND_PRIVATE = [5,5,5,5,5,5,5.5,6,6.5,7,
 7.5,8,8.5,8.5,9,9,9.5,9.5,9,8.5,
 7.5,7,6.5,5.5,5,4,3.5,2.5,2,1.5,
 1,0.5,0,-0.5,-1.5,-2,-3,-4,-5,-6,
 -6.5,-7,-7.5,-8,-8,-8.5,-8.5,-8.5,-9,-9,
 -9,-9.5,-10,-10.5,-10.5,-11,-11,-11.5,-11,-10,
 -8.5,-7.5,-7,-6,-5.5,-5,-4.5,-4,-3.5,-3.5,
 -3,-3,-2.5,-2,-2,-1.5,-1.5,-1.5,-1,-1,
 -1,-1,-0.5,-0.5,-0.5,0,0,0,0,0,
 0]
THAILAND_PUBLIC = [1,1,1.5,1.5,2,2.5,3,4,4.5,5.5,
 6,6.5,7,7,7.5,7.5,7.5,7.5,7,7,
 6.5,6,5,4.5,3.5,2.5,2,1.5,1,0.5,
 0.5,0,-0.5,-0.5,-0.5,-1,-1,-1,-1.5,-1.5,
 -1.5,-1.5,-1.5,-2,-2,-2,-2,-2,-2,-2,
 -2,-2,-2,-2,-2,-2,-2,-2,-2,-2,
 -2,-2,-2,-1.5,-1.5,-1.5,-1.5,-1,-1,-1,
 -1,-1,-0.5,-0.5,-0.5,-0.5,-0.5,-0.5,-0.5,-0.5,
 -0.5,-0.5,-0.5,-0.5,-0.5,0,0,0,0.5,0.5,
 0.5]
TURKEY_PRIVATE = [7.5,7.5,7.5,7.5,7.5,7.5,7.5,8,8.5,9.5,
 10.5,11,12,13,14,14.5,15,15.5,15.5,14.5,
 13,11,7.5,0.5,-3,-5,-11,-13,-15.5,-17.5,
 -19.5,-21.5,-24,-27,-29,-30,-30.5,-31.5,-32,-32,
 -32,-32.5,-34,-35,-37,-36.5,-35,-34,-30,-29.5,
 -29,-28,-27,-27,-25,-23.5,-22,-19.5,-17,-15.5,
 -13.5,-12,-11,-10,-9.5,-9,-8.5,-8,-8,-7.5,
 -7,-6.5,-6,-5.5,-4.5,-4,-3.5,-3,-2.5,-2,
 -2,-1.5,-1.5,-1,-1,-1,-0.5,-0.5,-0.5,-0.5,
 0]
TURKEY_PUBLIC = [0,0,0,0,0,0,0,0,0,0,
 0,0,0,0,0,0,0,0,0,0,
 0,0,0,0,0,0,0,0,0,0,
 0,0,0,0,0,0,0,0,0,0,
 0,0,0,0,0,0,0.5,1,1.5,2,
 3,3.5,4,4.5,5,5.5,6,6,6,6.5,
 6.5,6.5,6,6,5.5,5.5,5,5,4.5,4.5,
 4,4,3.5,3.5,3.5,3,3,2.5,2.5,2,
 2,2,1.5,1.5,1.5,1,1,1,0.5,0.5,
 0.5]
UNITED_KINGDOM_PRIVATE = [4,4,4,4,4,4,4.5,5,5.5,6.5,
 7,7.5,8,8.5,9,9.5,10,10,10,8,
 5.5,4,3,2,1,0.5,0,-1.5,-2.5,-4,
 -5,-5.5,-6.5,-7,-8,-8.5,-9,-9,-9.5,-10,
 -10,-10.5,-10.5,-11,-11,-11.5,-11,-11,-10.5,-10,
 -9.5,-9,-8,-7,-6,-5,-4,-3,-2,-1.5,
 -1,-1,-0.5,-0.5,-0.5,-0.5,-0.5,-0.5,-0.5,-0.5,
 -0.5,-0.5,-0.5,-0.5,-0.5,-0.5,-0.5,-0.5,-0.5,-0.5,
 -0.5,-0.5,-0.5,-0.5,-0.5,-0.5,-0.5,-0.5,-0.5,-0.5,
 -0.5]
UNITED_KINGDOM_PUBLIC = [3.5,3.5,3.5,3.5,3.5,3.5,3.5,3.5,3.5,3.5,
 3.5,3.5,3.5,3.5,3.5,3.5,3.5,3.5,3,2.5,
 2,1.5,1,1,0.5,0,-0.5,-1,-1.5,-2,
 -2,-2,-2,-2,-2,-2,-2,-2,-2,-2,
 -2,-2,-2,-2,-2,-2,-2,-2,-2,-2,
 -2,-2,-2,-2,-2,-2,-2,-2,-2,-2,
 -2,-1.5,-1,0,0.5,1.5,2,2.5,3,3.5,
 4,5,5.5,6,7,7.5,8,8.5,9,9.5,
 10,11,11.5,12,12.5,13,13.5,14,14,14.5,
 15]
UNITED_STATES_PRIVATE = [3,3,2.5,2,1.5,1,1,1.5,2,3,
 4,4.5,5.5,6,6.5,7,7,7,6.5,5.5,
 4,3,2.5,2,1.5,1,0.5,0,-0.5,-0.5,
 -0.5,-1,-1.5,-2,-2.5,-3,-3.5,-4,-4.5,-4.5,
 -5,-5.5,-5.5,-6,-6,-6.5,-6.5,-6.5,-7,-7,
 -7,-7,-7,-6.5,-6.5,-6,-6,-5.5,-5,-4.5,
 -4,-3.5,-3,-2,-1.5,-1,-0.5,-0.5,-0.5,-0.5,
 -0.5,-0.5,-0.5,-0.5,-0.5,-0.5,-0.5,-0.5,-0.5,-0.5,
 -0.5,-0.5,-0.5,-0.5,-0.5,-0.5,-0.5,-0.5,-0.5,-0.5,
 -0.5]
UNITED_STATES_PUBLIC = [4.5,4.5,4.5,4.5,4.5,4.5,4.5,5,5,5.5,
 5.5,5.5,6,6,6,6,6,6,5.5,5.5,
 5,4.5,4,3.5,3,2.5,1.5,0.5,0,-1,
 -2,-2.5,-3,-4,-4.5,-5,-5.5,-5.5,-6,-6,
 -6,-6.5,-6.5,-6.5,-6.5,-6.5,-6.5,-6.5,-6.5,-6.5,
 -6.5,-6.5,-6,-6,-6,-6,-6,-6,-5.5,-5.5,
 -5,-4.5,-4,-3,-2,-1,0,0.5,1,2,
 2.5,3,3.5,4,4.5,5,5.5,6,6.5,7,
 7.5,8,8.5,9,9.5,10,10.5,11,12,12.5,
 13]
URUGUAY_PRIVATE = [4,4,4,4.5,5,5.5,6.5,7.5,8.5,9,
 9.5,10,10.5,11,11,11.5,11.5,11,10.5,9.5,
 8.5,7.5,6.5,5.5,4.5,3.5,2.5,1.5,0.5,-0.5,
 -1.5,-3.5,-6,-8.5,-10.5,-12.5,-14,-15,-16,-17,
 -17.5,-18,-18.5,-19,-19.5,-20,-20,-19.5,-19,-18.5,
 -18,-17.5,-16.5,-15.5,-14.5,-13.5,-13,-12,-11,-10.5,
 -10,-9,-8,-7,-6,-5,-4.5,-3.5,-3,-2.5,
 -2,-2,-1.5,-1.5,-1.5,-1,-1,-1,-1,-1,
 -1,-1,-1,-1,-1,-1,-1,-1,-1,-1,
 -1]
URUGUAY_PUBLIC = [3.5,3.5,3.5,3.5,3.5,3.5,3.5,3.5,3.5,3.5,
 3.5,3.5,3.5,3.5,3.5,3.5,3.5,3.5,3.5,3.5,
 3,3,2.5,2.5,2,2,1.5,1,0,-0.5,
 -0.5,-1,-1,-1,-1,-1,-1,-1,-1,-1,
 -1,-1,-1,-1,-1,-1,-1,-1,-1,-1,
 -1,-1,-1,-1,-1,-1,-1,-1,-1,-1,
 -0.5,0,1,2,3,4,5,5.5,6.5,7,
 7.5,8,8.5,9,9.5,10,10.5,11,11,11.5,
 11.5,11.5,11.5,11.5,11.5,11.5,11.5,11.5,11.5,11.5,
 11.5]

PRIVATE_SERIES = [ARGENTINA_PRIVATE, AUSTRALIA_PRIVATE, AUSTRIA_PRIVATE, BRAZIL_PRIVATE, CAMBODIA_PRIVATE,
                  CHILE_PRIVATE, CHINA_PRIVATE, COSTA_RICA_PRIVATE, ECUADOR_PRIVATE, EL_SALVADOR_PRIVATE,
                  FRANCE_PRIVATE, GERMANY_PRIVATE, HUNGARY_PRIVATE, INDIA_PRIVATE, INDONESIA_PRIVATE,
                  ITALY_PRIVATE, JAMAICA_PRIVATE, JAPAN_PRIVATE, LAOS_PRIVATE, MEXICO_PRIVATE,
                  PERU_PRIVATE, PHILIPPINES_PRIVATE, SENEGAL_PRIVATE, SLOVENIA_PRIVATE, SOUTH_AFRICA_PRIVATE,
                  SOUTH_KOREA_PRIVATE, SPAIN_PRIVATE, SWEDEN_PRIVATE, TAIWAN_PRIVATE, THAILAND_PRIVATE,
                  TURKEY_PRIVATE, UNITED_KINGDOM_PRIVATE, UNITED_STATES_PRIVATE, URUGUAY_PRIVATE]
PUBLIC_SERIES = [ARGENTINA_PUBLIC, AUSTRALIA_PUBLIC, AUSTRIA_PUBLIC, BRAZIL_PUBLIC, CAMBODIA_PUBLIC,
                 CHILE_PUBLIC, CHINA_PUBLIC, COSTA_RICA_PUBLIC, ECUADOR_PUBLIC, EL_SALVADOR_PUBLIC,
                 FRANCE_PUBLIC, GERMANY_PUBLIC, HUNGARY_PUBLIC, INDIA_PUBLIC, INDONESIA_PUBLIC,
                 ITALY_PUBLIC, JAMAICA_PUBLIC, JAPAN_PUBLIC, LAOS_PUBLIC, MEXICO_PUBLIC,
                 PERU_PUBLIC, PHILIPPINES_PUBLIC, SENEGAL_PUBLIC, SLOVENIA_PUBLIC, SOUTH_AFRICA_PUBLIC,
                 SOUTH_KOREA_PUBLIC, SPAIN_PUBLIC, SWEDEN_PUBLIC, TAIWAN_PUBLIC, THAILAND_PUBLIC,
                 TURKEY_PUBLIC, UNITED_KINGDOM_PUBLIC, UNITED_STATES_PUBLIC, URUGUAY_PUBLIC]

PRIVATE_COLOR = "#00007F"
PUBLIC_COLOR = "#CC0000"
FONT = "Liberation Sans, Arial, Helvetica, sans-serif"


def px_x(p):
    return p / W


def px_y(p):
    return 1 - p / H


fig = go.Figure()
shapes = []
annotations = []
bad = []

for i, country in enumerate(COUNTRIES):
    k, r = divmod(i, 5)
    n = i + 1
    sfx = "" if n == 1 else str(n)
    x0 = 979.3 - 138 * k
    x1 = x0 + 91
    y0 = 106 + 289.5 * r
    y1 = y0 + 277
    pub = PUBLIC_SERIES[i]
    pri = PRIVATE_SERIES[i]
    if len(pub) != 91 or len(pri) != 91:
        bad.append(f"{country}:{len(pri)}/{len(pub)}")
    for vals, color, name in ((pub, PUBLIC_COLOR, "Public"), (pri, PRIVATE_COLOR, "Private")):
        fig.add_trace(go.Bar(
            orientation="h",
            y=AGES[:len(vals)],
            x=[v / 1000 for v in vals],
            xaxis="x" + sfx, yaxis="y" + sfx,
            width=0.9,
            marker=dict(color=color, line=dict(color="white", width=0.45)),
            name=name, showlegend=False, hoverinfo="skip",
        ))
    show_val = (r == 0)
    show_age = (k == 6) or (k == 5 and r == 4)
    fig.layout["xaxis" + sfx] = dict(
        domain=[px_x(x0), px_x(x1)], anchor="y" + sfx,
        range=[-0.055, 0.055], tickmode="array",
        tickvals=VALUE_TICKS, ticktext=VALUE_TICK_LABELS,
        side="top", tickangle=90,
        showticklabels=show_val, ticks="outside" if show_val else "",
        ticklen=6, tickwidth=1, tickcolor="#333333",
        tickfont=dict(size=17, color="#4D4D4D", family=FONT),
        showgrid=True, gridcolor="#EBEBEB", gridwidth=1.4,
        zeroline=False, showline=False, fixedrange=True,
        minor=dict(tickmode="array", tickvals=[-0.0375, -0.0125, 0.0125, 0.0375],
                   showgrid=True, gridcolor="#F1F1F1", gridwidth=0.8, ticks=""),
    )
    fig.layout["yaxis" + sfx] = dict(
        domain=[px_y(y1), px_y(y0)], anchor="x" + sfx,
        range=[95, -5], tickmode="array",
        tickvals=AGE_TICKS, ticktext=AGE_TICK_LABELS, tickangle=90,
        showticklabels=show_age, ticks="outside" if show_age else "",
        ticklen=7, tickwidth=1, tickcolor="#333333",
        tickfont=dict(size=17, color="#4D4D4D", family=FONT),
        showgrid=True, gridcolor="#EBEBEB", gridwidth=1.4,
        zeroline=False, showline=False, fixedrange=True,
        minor=dict(tickmode="array", tickvals=[7.5, 22.5, 37.5, 52.5, 67.5, 82.5],
                   showgrid=True, gridcolor="#F1F1F1", gridwidth=0.8, ticks=""),
    )
    # panel border
    shapes.append(dict(type="rect", xref="paper", yref="paper",
                       x0=px_x(x0), x1=px_x(x1), y0=px_y(y1), y1=px_y(y0),
                       line=dict(color="#4D4D4D", width=1), fillcolor="rgba(0,0,0,0)", layer="above"))
    # strip
    shapes.append(dict(type="rect", xref="paper", yref="paper",
                       x0=px_x(x1), x1=px_x(x1 + 35), y0=px_y(y1), y1=px_y(y0),
                       line=dict(color="#4D4D4D", width=1), fillcolor="#D9D9D9", layer="above"))
    annotations.append(dict(xref="paper", yref="paper", x=px_x(x1 + 17.5), y=px_y((y0 + y1) / 2),
                            text=country, textangle=90, showarrow=False,
                            xanchor="center", yanchor="middle",
                            font=dict(size=17, color="#1A1A1A", family=FONT)))

# titles
annotations.append(dict(xref="paper", yref="paper", x=px_x(610.5), y=px_y(24), text=TITLE,
                        showarrow=False, xanchor="center", yanchor="middle",
                        font=dict(size=21.5, color="#000000", family=FONT)))
annotations.append(dict(xref="paper", yref="paper", x=px_x(110), y=px_y(822.5), text=AGE_TITLE,
                        textangle=90, showarrow=False, xanchor="center", yanchor="middle",
                        font=dict(size=21.5, color="#000000", family=FONT)))

# legend (drawn rotated like the rest of the figure)
for (name, color, ky0, ly) in ((SERIES[0], PRIVATE_COLOR, 732, 801), (SERIES[1], PUBLIC_COLOR, 840, 905)):
    shapes.append(dict(type="rect", xref="paper", yref="paper",
                       x0=px_x(32), x1=px_x(63), y0=px_y(ky0 + 30), y1=px_y(ky0),
                       line=dict(color=color, width=0.5), fillcolor=color, layer="above"))
    annotations.append(dict(xref="paper", yref="paper", x=px_x(46), y=px_y(ly), text=name,
                            textangle=90, showarrow=False, xanchor="center", yanchor="middle",
                            font=dict(size=17, color="#000000", family=FONT)))

# light frame of the original picture
shapes.append(dict(type="line", xref="paper", yref="paper", x0=px_x(8), x1=1, y0=px_y(5), y1=px_y(5),
                   line=dict(color="#E3E3E3", width=1.5)))
shapes.append(dict(type="line", xref="paper", yref="paper", x0=px_x(8), x1=px_x(8), y0=0, y1=px_y(5),
                   line=dict(color="#E3E3E3", width=1.5)))

if bad:
    annotations.append(dict(xref="paper", yref="paper", x=px_x(20), y=px_y(1400), text="LEN: " + " ".join(bad),
                            showarrow=False, xanchor="left", font=dict(size=10, color="red")))

fig.update_layout(
    width=W, height=H,
    margin=dict(l=0, r=0, t=0, b=0, pad=0),
    paper_bgcolor="white", plot_bgcolor="white",
    barmode="relative", showlegend=False,
    font=dict(family=FONT),
    shapes=shapes, annotations=annotations,
)

fig.write_html("out.html", include_plotlyjs=True, config={"displayModeBar": False},
               post_script="document.body.style.margin='0';document.body.style.overflow='hidden';")
